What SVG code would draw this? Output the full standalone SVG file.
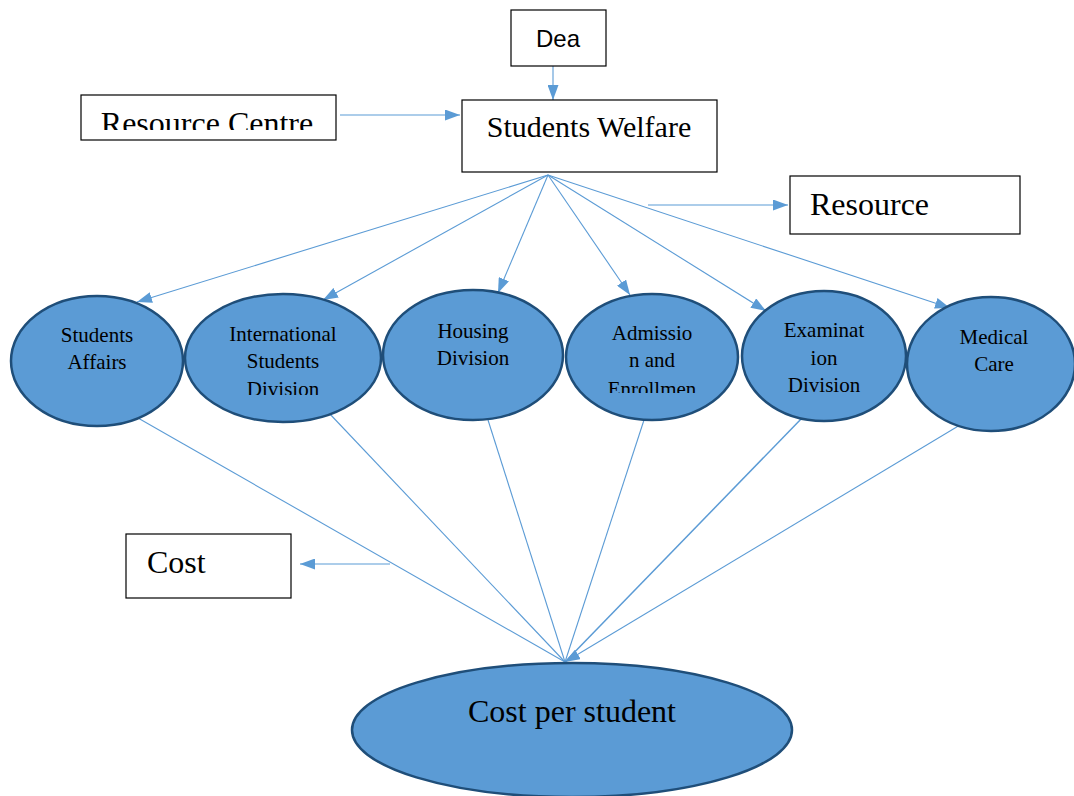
<svg xmlns="http://www.w3.org/2000/svg" width="1074" height="796" viewBox="0 0 1074 796">
  <style>
    .box { fill: #ffffff; stroke: #000000; stroke-width: 1.2; }
    .oval { fill: #5B9BD5; stroke: #1F4E79; stroke-width: 2.5; }
    .link { fill: none; stroke: #5B9BD5; stroke-width: 1.1; }
    .small { font-size: 21px; text-anchor: middle; }
  </style>
  <defs>
    <marker id="arrow" viewBox="0 0 15 11" refX="15" refY="5.5" markerWidth="15" markerHeight="11" markerUnits="userSpaceOnUse" orient="auto">
      <path d="M0,0 L15,5.5 L0,11 Z" fill="#5B9BD5"/>
    </marker>
    <clipPath id="clip-rc"><rect x="81" y="95" width="255" height="35"/></clipPath>
    <clipPath id="clip-isd"><rect x="185" y="294" width="197" height="101"/></clipPath>
    <clipPath id="clip-adm"><rect x="566" y="295" width="172" height="98"/></clipPath>
  </defs>

  <!-- connectors -->
  <g id="connectors">
    <line class="link" x1="553" y1="62" x2="553" y2="100" marker-end="url(#arrow)"/>
    <line class="link" x1="340" y1="115" x2="460" y2="115" marker-end="url(#arrow)"/>
    <line class="link" x1="648" y1="205" x2="788" y2="205" marker-end="url(#arrow)"/>
    <line class="link" x1="390" y1="564" x2="300" y2="564" marker-end="url(#arrow)"/>

    <line class="link" x1="548" y1="175" x2="137" y2="302" marker-end="url(#arrow)"/>
    <line class="link" x1="548" y1="175" x2="323" y2="300" marker-end="url(#arrow)"/>
    <line class="link" x1="548" y1="175" x2="498" y2="293" marker-end="url(#arrow)"/>
    <line class="link" x1="548" y1="175" x2="630" y2="295" marker-end="url(#arrow)"/>
    <line class="link" x1="548" y1="175" x2="766" y2="311" marker-end="url(#arrow)"/>
    <line class="link" x1="548" y1="175" x2="950" y2="308" marker-end="url(#arrow)"/>

    <line class="link" x1="138" y1="418" x2="565" y2="662"/>
    <line class="link" x1="328" y1="412" x2="565" y2="662"/>
    <line class="link" x1="488" y1="420" x2="565" y2="662"/>
    <line class="link" x1="644" y1="420" x2="565" y2="662"/>
    <line class="link" x1="803" y1="417" x2="565" y2="662" style="stroke-width:1.5"/>
    <line class="link" x1="960" y1="425" x2="565" y2="662" marker-end="url(#arrow)"/>
  </g>

  <g id="dea" font-family="'Liberation Sans', Arial, sans-serif">
    <rect class="box" x="511" y="10" width="95" height="56"/>
    <text x="558" y="47" font-size="24" text-anchor="middle">Dea</text>
  </g>

  <g font-family="'Liberation Serif', 'Times New Roman', serif" fill="#000000">
    <g id="students-welfare">
      <rect class="box" x="462" y="100" width="255" height="72"/>
      <text x="589" y="137" font-size="30" text-anchor="middle">Students Welfare</text>
    </g>

    <g id="resource-centre">
      <rect class="box" x="81" y="95" width="255" height="45"/>
      <text x="207" y="134" font-size="32" text-anchor="middle" clip-path="url(#clip-rc)">Resource Centre</text>
    </g>

    <g id="resource">
      <rect class="box" x="790" y="176" width="230" height="58"/>
      <text x="810" y="215" font-size="32">Resource</text>
    </g>

    <g id="cost">
      <rect class="box" x="126" y="534" width="165" height="64"/>
      <text x="147" y="573" font-size="32">Cost</text>
    </g>

    <g id="students-affairs">
      <ellipse class="oval" cx="97" cy="361" rx="86" ry="65"/>
      <text class="small" x="97" y="342">Students</text>
      <text class="small" x="97" y="369">Affairs</text>
    </g>

    <g id="international-students">
      <ellipse class="oval" cx="283" cy="358" rx="98" ry="64"/>
      <g clip-path="url(#clip-isd)">
        <text class="small" x="283" y="341">International</text>
        <text class="small" x="283" y="368">Students</text>
        <text class="small" x="283" y="396">Division</text>
      </g>
    </g>

    <g id="housing">
      <ellipse class="oval" cx="473" cy="355" rx="90" ry="65"/>
      <text class="small" x="473" y="338">Housing</text>
      <text class="small" x="473" y="365">Division</text>
    </g>

    <g id="admission">
      <ellipse class="oval" cx="652" cy="357" rx="86" ry="63"/>
      <g clip-path="url(#clip-adm)">
        <text class="small" x="652" y="340">Admissio</text>
        <text class="small" x="652" y="367">n and</text>
        <text class="small" x="652" y="396">Enrollmen</text>
      </g>
    </g>

    <g id="examination">
      <ellipse class="oval" cx="824" cy="356" rx="82" ry="65"/>
      <text class="small" x="824" y="337">Examinat</text>
      <text class="small" x="824" y="365">ion</text>
      <text class="small" x="824" y="392">Division</text>
    </g>

    <g id="medical-care">
      <ellipse class="oval" cx="991" cy="364" rx="84" ry="67"/>
      <text class="small" x="994" y="344">Medical</text>
      <text class="small" x="994" y="371">Care</text>
    </g>

    <g id="cost-per-student">
      <ellipse class="oval" cx="572" cy="730" rx="220" ry="67"/>
      <text x="572" y="722" font-size="32" text-anchor="middle">Cost per student</text>
    </g>
  </g>
</svg>
